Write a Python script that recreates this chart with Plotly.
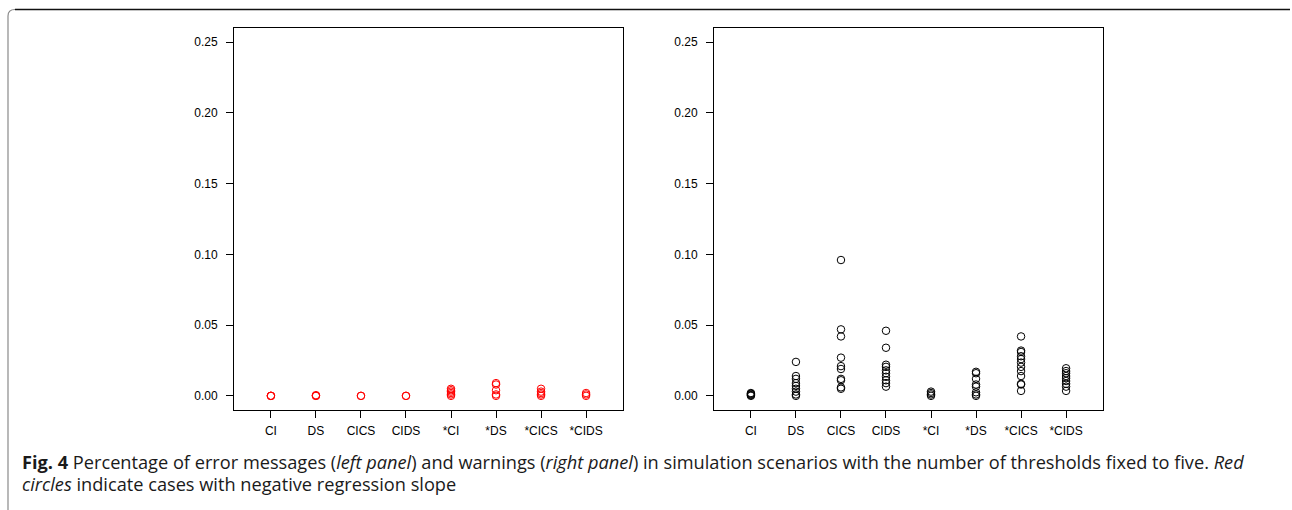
import plotly.graph_objects as go

W, H = 1292, 510

categories = ["CI", "DS", "CICS", "CIDS", "*CI", "*DS", "*CICS", "*CIDS"]
y_ticks = [0.00, 0.05, 0.10, 0.15, 0.20, 0.25]

# Left panel: percentage of error messages (red = negative regression slope)
err_ci = [0.0, 0.0, 0.0]
err_ds = [0.0, 0.0, 0.0005]
err_cics = [0.0, 0.0]
err_cids = [0.0, 0.0]
err_sci = [0.005, 0.004, 0.003, 0.002, 0.001, 0.0]
err_sds = [0.009, 0.008, 0.004, 0.001, 0.0]
err_scics = [0.005, 0.003, 0.002, 0.001, 0.0]
err_scids = [0.002, 0.001, 0.0]

# Right panel: percentage of warnings
warn_ci = [0.002, 0.0015, 0.001, 0.0005, 0.0]
warn_ds = [0.024, 0.014, 0.012, 0.009, 0.007, 0.005, 0.003, 0.001, 0.0]
warn_cics = [0.096, 0.047, 0.042, 0.027, 0.021, 0.019, 0.012, 0.011, 0.006, 0.005]
warn_cids = [0.046, 0.034, 0.022, 0.0205, 0.018, 0.016, 0.0135, 0.011, 0.009, 0.0065]
warn_sci = [0.003, 0.002, 0.001, 0.0]
warn_sds = [0.017, 0.016, 0.012, 0.008, 0.0065, 0.0025, 0.001, 0.0]
warn_scics = [0.042, 0.032, 0.031, 0.028, 0.026, 0.0235, 0.0205, 0.0175, 0.014, 0.0085, 0.008, 0.0035]
warn_scids = [0.0195, 0.0175, 0.016, 0.014, 0.0125, 0.0105, 0.0085, 0.0065, 0.0035]

left_groups = [err_ci, err_ds, err_cics, err_cids, err_sci, err_sds, err_scics, err_scids]
right_groups = [warn_ci, warn_ds, warn_cics, warn_cids, warn_sci, warn_sds, warn_scics, warn_scids]


def flatten(groups):
    xs, ys = [], []
    for i, g in enumerate(groups):
        for v in g:
            xs.append(i + 1)
            ys.append(v)
    return xs, ys


fig = go.Figure()
lx, ly = flatten(left_groups)
rx, ry = flatten(right_groups)
fig.add_trace(go.Scatter(x=lx, y=ly, mode="markers", xaxis="x", yaxis="y",
                         marker=dict(symbol="circle-open", size=7.5, color="#ff0000",
                                     line=dict(width=1, color="#ff0000"))))
fig.add_trace(go.Scatter(x=rx, y=ry, mode="markers", xaxis="x2", yaxis="y2",
                         marker=dict(symbol="circle-open", size=7.5, color="#000000",
                                     line=dict(width=1, color="#000000"))))

tick_font = dict(family="Liberation Sans, Arial, sans-serif", size=12, color="#000")


def xaxis(dom, anchor):
    return dict(domain=dom, anchor=anchor, range=[0.18, 8.82],
                tickmode="array", tickvals=list(range(1, 9)), ticktext=categories,
                ticks="outside", ticklen=7, tickwidth=1, tickcolor="#000",
                showline=True, mirror=True, linecolor="#000", linewidth=1,
                showgrid=False, zeroline=False, tickfont=tick_font,
                ticklabelstandoff=3)


def yaxis(anchor):
    return dict(domain=[1 - 410 / H, 1 - 28 / H], anchor=anchor, range=[-0.01, 0.26],
                tickmode="array", tickvals=y_ticks, tickformat=".2f",
                ticks="outside", ticklen=7, tickwidth=1, tickcolor="#000",
                showline=True, mirror=True, linecolor="#000", linewidth=1,
                showgrid=False, zeroline=False, tickfont=tick_font,
                ticklabelstandoff=6)


def px(x):
    return x / W


def py(y):
    return 1 - y / H


frame_left = f"M {px(8)},{py(510)} L {px(8)},{py(16)} Q {px(8)},{py(9.5)} {px(15)},{py(9.5)}"
frame_top = f"M {px(15)},{py(9.5)} L {px(1290)},{py(9.5)}"

cap_font = dict(family="Open Sans, sans-serif", size=18.2, color="#1a1a1a")

fig.update_layout(
    width=W, height=H,
    margin=dict(l=0, r=0, t=0, b=0),
    paper_bgcolor="white", plot_bgcolor="white",
    showlegend=False,
    xaxis=xaxis([234 / W, 623 / W], "y"),
    yaxis=yaxis("x"),
    xaxis2=xaxis([714 / W, 1103 / W], "y2"),
    yaxis2=yaxis("x2"),
    shapes=[
        dict(type="path", xref="paper", yref="paper", path=frame_left,
             line=dict(color="#8a8a8a", width=1.2)),
        dict(type="path", xref="paper", yref="paper", path=frame_top,
             line=dict(color="#111", width=1.5)),
    ],
    annotations=[
        dict(xref="paper", yref="paper", x=px(20), y=py(462), xanchor="left", yanchor="middle",
             showarrow=False, align="left", font=cap_font,
             text="<b>Fig. 4</b> Percentage of error messages (<i>left panel</i>) and warnings "
                  "(<i>right panel</i>) in simulation scenarios with the number of thresholds "
                  "fixed to five. <i>Red</i>"),
        dict(xref="paper", yref="paper", x=px(20), y=py(484), xanchor="left", yanchor="middle",
             showarrow=False, align="left", font=cap_font,
             text="<i>circles</i> indicate cases with negative regression slope"),
    ],
)

fig.write_html("out.html")
